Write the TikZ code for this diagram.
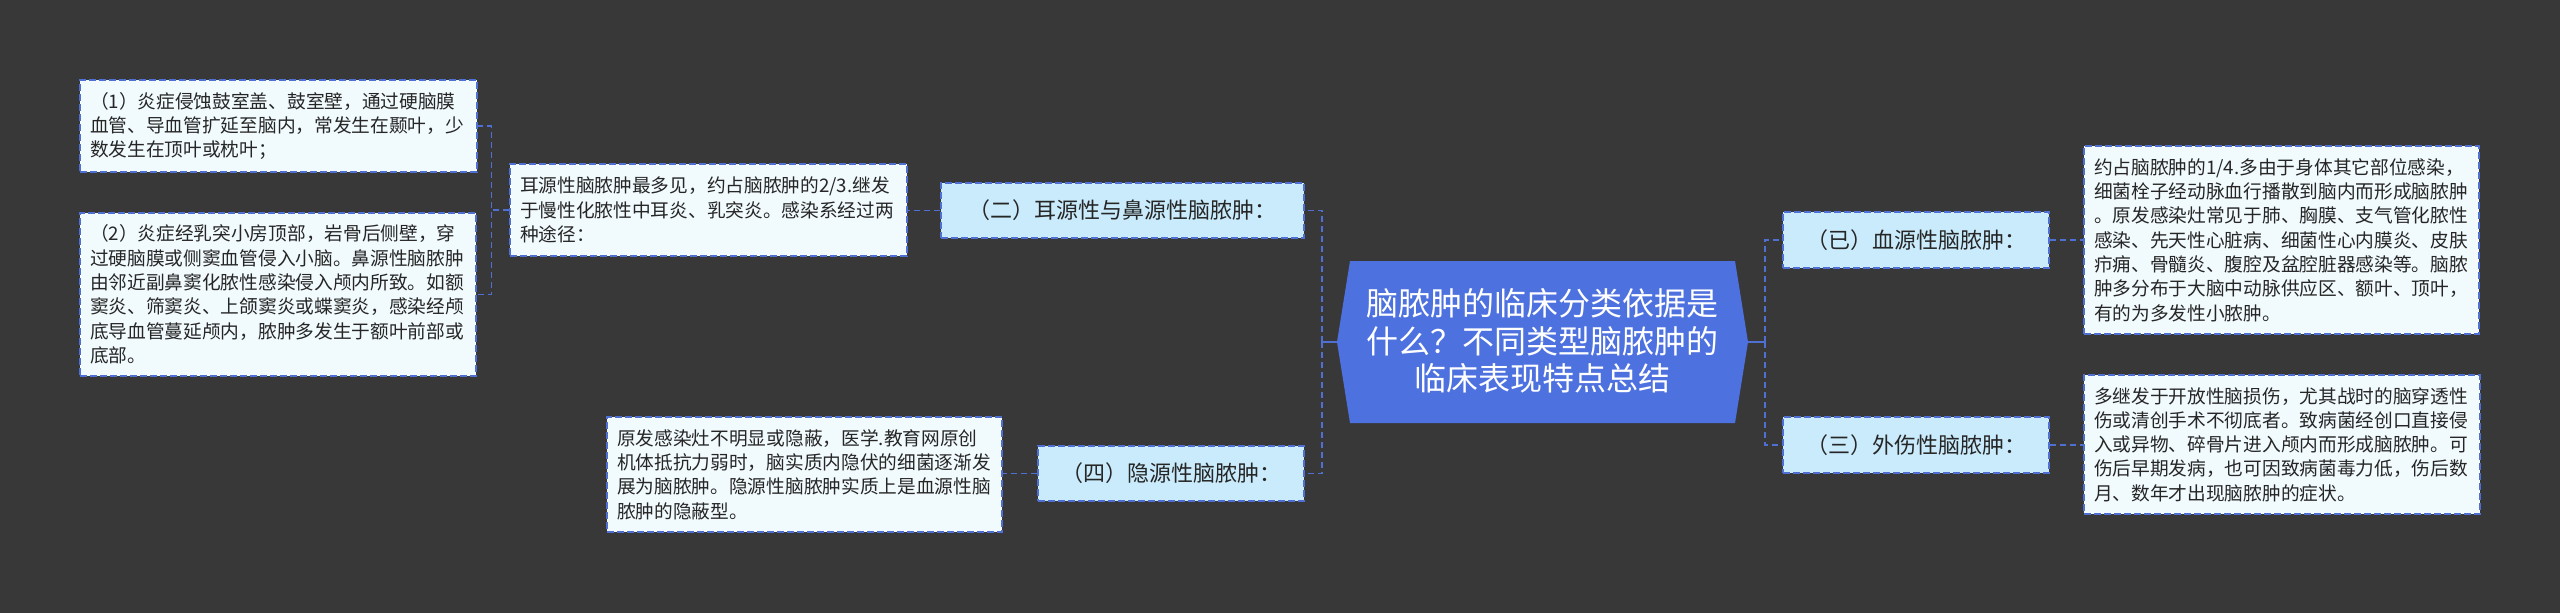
\documentclass[tikz,border=0pt]{standalone}
\usepackage{fontspec}
\setmainfont{Noto Sans CJK SC}
\definecolor{bgc}{HTML}{383838}
\definecolor{bc}{HTML}{4F6FD3}
\definecolor{leaffill}{HTML}{F1FAFD}
\definecolor{midfill}{HTML}{C9EBFB}
\definecolor{cfill}{HTML}{4E71E0}
\definecolor{txt}{HTML}{262626}
\tikzset{
  leaf/.style={draw=bc, fill=leaffill, line width=1.3pt, dash pattern=on 7pt off 3pt,
    inner xsep=10pt, inner ysep=0pt, align=left, text=txt,
    font=\fontsize{18.7}{24.3}\selectfont},
  mid/.style={draw=bc, fill=midfill, line width=1.3pt, dash pattern=on 7pt off 3pt,
    inner sep=0pt, align=center, text=txt,
    font=\fontsize{22}{26}\selectfont},
  central/.style={inner sep=0pt, align=center, text=white,
    font=\fontsize{32}{37.5}\selectfont},
  conn/.style={draw=bc, line width=1.6pt, dash pattern=on 6pt off 4pt},
  stub/.style={draw=bc, line width=1.6pt},
}
\begin{document}
\begin{tikzpicture}[x=1pt,y=-1pt]
\useasboundingbox (0,0) rectangle (2560,613);
\fill[bgc] (0,0) rectangle (2560,613);

% central node
\coordinate (cl) at (1337,342);
\coordinate (cr) at (1748,342);
\fill[cfill] (1350,261) -- (1735,261) -- (cr) -- (1735,423) -- (1350,423) -- (cl) -- cycle;
\node[central] (c) at (1542.5,341) {脑脓肿的临床分类依据是\\什么？不同类型脑脓肿的\\临床表现特点总结};

% left branch
\node[mid, minimum width=363pt, minimum height=55pt] (b4) at (1122.5,210.5) {（二）耳源性与鼻源性脑脓肿：};
\node[mid, minimum width=266pt, minimum height=55pt] (b5) at (1171,473.5) {（四）隐源性脑脓肿：};

\node[leaf, text width=377pt, minimum height=92pt] (b3) at (708.5,210)
  {耳源性脑脓肿最多见，约占脑脓肿的2/3.继发\\于慢性化脓性中耳炎、乳突炎。感染系经过两\\种途径：};
\node[leaf, text width=377pt, minimum height=92pt] (b1) at (278.5,126)
  {（1）炎症侵蚀鼓室盖、鼓室壁，通过硬脑膜\\血管、导血管扩延至脑内，常发生在颞叶，少\\数发生在顶叶或枕叶；};
\node[leaf, text width=376pt, minimum height=163pt] (b2) at (278,294.5)
  {（2）炎症经乳突小房顶部，岩骨后侧壁，穿\\过硬脑膜或侧窦血管侵入小脑。鼻源性脑脓肿\\由邻近副鼻窦化脓性感染侵入颅内所致。如额\\窦炎、筛窦炎、上颌窦炎或蝶窦炎，感染经颅\\底导血管蔓延颅内，脓肿多发生于额叶前部或\\底部。};
\node[leaf, text width=375pt, minimum height=115pt] (b6) at (804.5,474.5)
  {原发感染灶不明显或隐蔽，医学.教育网原创\\机体抵抗力弱时，脑实质内隐伏的细菌逐渐发\\展为脑脓肿。隐源性脑脓肿实质上是血源性脑\\脓肿的隐蔽型。};

% right branch
\node[mid, minimum width=266pt, minimum height=56pt] (b7) at (1916,240) {（已）血源性脑脓肿：};
\node[mid, minimum width=266pt, minimum height=56pt] (b8) at (1916,445) {（三）外伤性脑脓肿：};
\node[leaf, text width=375pt, minimum height=188pt] (b9) at (2281.5,240)
  {约占脑脓肿的1/4.多由于身体其它部位感染，\\细菌栓子经动脉血行播散到脑内而形成脑脓肿\\。原发感染灶常见于肺、胸膜、支气管化脓性\\感染、先天性心脏病、细菌性心内膜炎、皮肤\\疖痈、骨髓炎、腹腔及盆腔脏器感染等。脑脓\\肿多分布于大脑中动脉供应区、额叶、顶叶，\\有的为多发性小脓肿。};
\node[leaf, text width=376pt, minimum height=139pt] (b10) at (2282,444.5)
  {多继发于开放性脑损伤，尤其战时的脑穿透性\\伤或清创手术不彻底者。致病菌经创口直接侵\\入或异物、碎骨片进入颅内而形成脑脓肿。可\\伤后早期发病，也可因致病菌毒力低，伤后数\\月、数年才出现脑脓肿的症状。};

% connectors
\draw[stub] (cl) -- ([xshift=-15pt]cl);
\draw[conn] ([xshift=-15pt]cl) |- (b4.east);
\draw[conn] ([xshift=-15pt]cl) |- (b5.east);
\draw[stub] (cr) -- ([xshift=17pt]cr);
\draw[conn] ([xshift=17pt]cr) |- (b7.west);
\draw[conn] ([xshift=17pt]cr) |- (b8.west);
\draw[conn] (b4.west) -- (b4.west -| b3.east);
\draw[conn] (b5.west) -- (b5.west -| b6.east);
\draw[conn] (b3.west) -- ++(-18,0) |- (b1.east);
\draw[conn] (b3.west) -- ++(-18,0) |- (b2.east);
\draw[conn] (b7.east) -- (b7.east -| b9.west);
\draw[conn] (b8.east) -- (b8.east -| b10.west);
\end{tikzpicture}
\end{document}
